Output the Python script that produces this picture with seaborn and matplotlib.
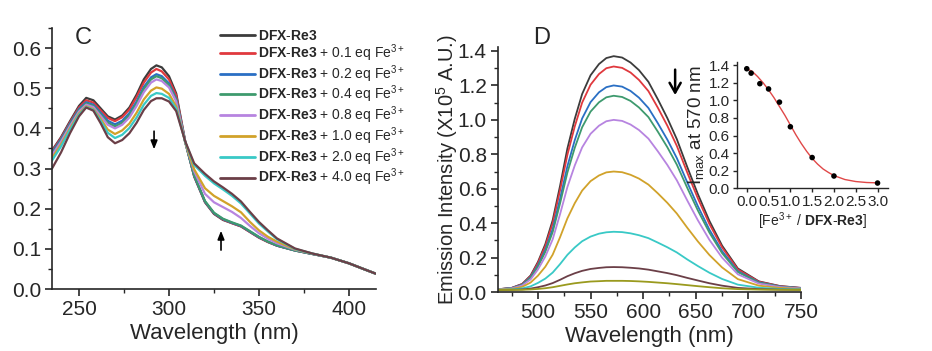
import numpy as np
import pandas as pd
import seaborn as sns
import matplotlib.pyplot as plt
from matplotlib.lines import Line2D
from matplotlib.ticker import MultipleLocator, FormatStrFormatter

# ---- panel C: absorption spectra ----
WL_C = [235, 240, 245, 250, 254, 258, 262, 266, 270, 274, 278, 282, 286, 290, 293, 296,
        300, 304, 309, 314, 320, 325, 330, 335, 340, 345, 350, 355, 360, 370, 380, 390,
        400, 408, 415]
abs_0 = [.345, .378, .418, .456, .476, .470, .450, .430, .422, .432, .452, .484, .522, .548, .557, .552,
         .530, .487, .368, .280, .216, .187, .172, .164, .156, .142, .128, .117, .108, .096, .087, .078,
         .064, .050, .038]
abs_01 = [.343, .376, .415, .452, .470, .464, .445, .426, .418, .428, .447, .478, .514, .539, .548, .542,
          .522, .482, .367, .281, .217, .188, .173, .164, .156, .142, .128, .117, .108, .096, .087, .078,
          .064, .050, .038]
abs_02 = [.340, .373, .412, .448, .465, .459, .439, .419, .410, .419, .438, .467, .503, .527, .535, .530,
          .512, .474, .366, .282, .218, .189, .174, .165, .157, .143, .129, .118, .108, .096, .087, .078,
          .064, .050, .038]
abs_04 = [.336, .370, .409, .445, .462, .456, .435, .414, .405, .414, .433, .462, .498, .522, .530, .525,
          .508, .471, .366, .283, .219, .190, .175, .166, .158, .144, .130, .118, .109, .096, .087, .078,
          .064, .050, .038]
abs_08 = [.333, .367, .406, .442, .459, .453, .431, .409, .400, .409, .427, .456, .490, .514, .522, .518,
          .502, .467, .366, .293, .237, .216, .204, .192, .177, .157, .139, .125, .114, .098, .088, .078,
          .064, .050, .038]
abs_10 = [.326, .360, .400, .437, .455, .448, .424, .397, .386, .395, .412, .439, .472, .494, .502, .499,
          .486, .455, .366, .298, .251, .232, .219, .206, .191, .167, .146, .130, .118, .099, .088, .078,
          .064, .050, .038]
abs_20 = [.320, .355, .396, .434, .453, .446, .419, .389, .376, .384, .401, .427, .459, .481, .488, .486,
          .476, .449, .367, .309, .282, .263, .248, .232, .213, .188, .163, .143, .124, .100, .088, .078,
          .064, .050, .038]
abs_40 = [.300, .340, .388, .430, .452, .444, .413, .378, .363, .371, .388, .414, .446, .468, .475, .475,
          .467, .443, .368, .313, .287, .268, .253, .237, .218, .192, .167, .146, .126, .101, .088, .078,
          .064, .050, .038]

EQ_LABELS = ["0", "0.1", "0.2", "0.4", "0.8", "1.0", "2.0", "4.0"]
COLORS_C = ["#3c3c3c", "#e0393e", "#2a6fc4", "#3e9a6e", "#b784e0", "#d1a22a", "#39c9c6", "#6b3f47"]

# ---- panel D: emission spectra ----
WL_D = [462, 475, 485, 493, 500, 507, 514, 521, 528, 535, 542, 550, 558, 565, 572, 580, 588,
        596, 605, 614, 623, 632, 642, 652, 663, 675, 690, 710, 730, 750]
em_0 = [.016, .024, .047, .096, .175, .278, .417, .616, .834, 1.006, 1.150, 1.259, 1.324, 1.359, 1.370,
        1.362, 1.333, 1.289, 1.221, 1.119, 1.010, .888, .725, .569, .413, .270, .137, .062, .035, .024]
em_1 = [.016, .024, .046, .092, .168, .266, .399, .590, .797, .962, 1.100, 1.204, 1.266, 1.300, 1.310,
        1.302, 1.275, 1.232, 1.167, 1.070, .966, .849, .693, .544, .395, .259, .131, .060, .034, .024]
em_2 = [.016, .023, .043, .086, .155, .245, .366, .541, .731, .882, 1.008, 1.103, 1.160, 1.190, 1.200,
        1.193, 1.168, 1.129, 1.069, .980, .885, .778, .636, .499, .362, .238, .121, .056, .032, .023]
em_3 = [.015, .022, .041, .082, .147, .233, .348, .514, .694, .838, .957, 1.048, 1.102, 1.131, 1.140,
        1.133, 1.110, 1.072, 1.016, .931, .841, .740, .604, .474, .345, .226, .116, .054, .031, .022]
em_4 = [.015, .021, .038, .073, .131, .206, .306, .452, .610, .735, .840, .919, .966, .992, 1.000,
        .994, .973, .941, .891, .817, .738, .649, .531, .417, .303, .200, .103, .049, .029, .021]
em_5 = [.014, .018, .030, .055, .095, .147, .217, .318, .428, .516, .589, .644, .677, .695, .700,
        .696, .681, .659, .624, .573, .518, .456, .373, .294, .215, .143, .075, .037, .024, .018]
em_6 = [.013, .015, .021, .033, .053, .078, .113, .162, .216, .259, .295, .322, .339, .347, .350,
        .348, .341, .330, .313, .287, .260, .230, .189, .151, .112, .076, .043, .025, .018, .015]
em_7 = [.012, .013, .015, .020, .028, .038, .052, .071, .092, .109, .123, .134, .140, .144, .145,
        .144, .141, .137, .130, .120, .110, .098, .082, .067, .051, .037, .024, .017, .014, .013]
em_8 = [.012, .012, .013, .015, .018, .022, .028, .036, .044, .051, .056, .061, .063, .065, .065,
        .065, .064, .062, .059, .055, .051, .046, .040, .034, .028, .022, .017, .014, .013, .012]
COLORS_D = COLORS_C + ["#9a9a1e"]

# ---- inset: I_max at 570 nm ----
ratio = [0.0, 0.1, 0.3, 0.5, 0.75, 1.0, 1.5, 2.0, 3.0]
imax = [1.36, 1.31, 1.19, 1.13, 0.98, 0.70, 0.35, 0.14, 0.06]
fit_x = [0, .125, .25, .375, .5, .625, .75, .875, 1.0, 1.125, 1.25, 1.375, 1.5, 1.625,
         1.75, 1.875, 2.0, 2.25, 2.5, 2.75, 3.0]
fit_y = [1.36, 1.33, 1.27, 1.20, 1.12, 1.03, .93, .83, .72, .61, .51, .42, .34, .275,
         .22, .18, .145, .10, .077, .066, .062]

sns.set_style("ticks")
plt.rcParams["font.family"] = ["Liberation Sans", "DejaVu Sans"]
plt.rcParams["mathtext.fontset"] = "custom"
plt.rcParams["mathtext.rm"] = "Liberation Sans"
plt.rcParams["mathtext.bf"] = "Liberation Sans:bold"
plt.rcParams["mathtext.it"] = "Liberation Sans:italic"
plt.rcParams["axes.linewidth"] = 1.2

series_c = [abs_0, abs_01, abs_02, abs_04, abs_08, abs_10, abs_20, abs_40]
df_c = pd.DataFrame({
    "wl": np.tile(WL_C, len(series_c)),
    "absorbance": np.concatenate(series_c),
    "eq": np.repeat(EQ_LABELS, len(WL_C)),
})
series_d = [em_0, em_1, em_2, em_3, em_4, em_5, em_6, em_7, em_8]
names_d = [f"s{i}" for i in range(len(series_d))]
df_d = pd.DataFrame({
    "wl": np.tile(WL_D, len(series_d)),
    "intensity": np.concatenate(series_d),
    "s": np.repeat(names_d, len(WL_D)),
})

fig = plt.figure(figsize=(9.32, 3.51), dpi=100)
axC = fig.add_axes([0.0558, 0.1766, 0.3476, 0.7436])
axD = fig.add_axes([0.5343, 0.168, 0.3251, 0.698])
axI = fig.add_axes([0.7905, 0.4635, 0.1623, 0.3607])

# panel C
sns.lineplot(data=df_c, x="wl", y="absorbance", hue="eq", hue_order=EQ_LABELS,
             palette=COLORS_C, estimator=None, sort=False, lw=1.6, legend=False, ax=axC)
axC.set_xlim(235, 415)
axC.set_ylim(0, 0.65)
axC.xaxis.set_major_locator(MultipleLocator(50))
axC.xaxis.set_minor_locator(MultipleLocator(25))
axC.yaxis.set_major_locator(MultipleLocator(0.1))
axC.yaxis.set_minor_locator(MultipleLocator(0.05))
axC.yaxis.set_major_formatter(FormatStrFormatter("%.1f"))
axC.set_xlabel("Wavelength (nm)", fontsize=16, labelpad=3)
axC.set_ylabel("")
fig.text(83 / 932, 1 - 38 / 351, "C", fontsize=17, ha="center", va="center")
axC.annotate("", xy=(291.7, 0.341), xytext=(291.7, 0.40),
             arrowprops=dict(arrowstyle="-|>,head_length=0.5,head_width=0.2", lw=1.2, color="black"))
axC.annotate("", xy=(328.9, 0.152), xytext=(328.9, 0.09),
             arrowprops=dict(arrowstyle="-|>,head_length=0.5,head_width=0.2", lw=1.2, color="black"))

handles = [Line2D([], [], color=c, lw=2) for c in COLORS_C]
labels = [r"$\mathbf{DFX}$-$\mathbf{Re3}$"] + \
         [r"$\mathbf{DFX}$-$\mathbf{Re3}$ + " + e + r" eq Fe$^{3+}$" for e in EQ_LABELS[1:]]
axC.legend(handles, labels, loc="upper left", bbox_to_anchor=(220 / 932, 1 - 29 / 351),
           bbox_transform=fig.transFigure, frameon=False, fontsize=10, handlelength=2.5,
           handletextpad=0.25, labelspacing=-0.06, borderpad=0, borderaxespad=0)

# panel D
sns.lineplot(data=df_d, x="wl", y="intensity", hue="s", hue_order=names_d,
             palette=COLORS_D, estimator=None, sort=False, lw=1.3, legend=False, ax=axD)
axD.set_xlim(462, 750)
axD.set_ylim(0, 1.423)
axD.xaxis.set_major_locator(MultipleLocator(50))
axD.xaxis.set_minor_locator(MultipleLocator(25))
axD.yaxis.set_major_locator(MultipleLocator(0.2))
axD.yaxis.set_minor_locator(MultipleLocator(0.1))
axD.yaxis.set_major_formatter(FormatStrFormatter("%.1f"))
axD.set_xlabel("Wavelength (nm)", fontsize=16, labelpad=3)
axD.set_ylabel(r"Emission Intensity (X10$^{5}$ A.U.)", fontsize=14.5)
axD.yaxis.set_label_coords(-0.125, 0.5)
fig.text(542 / 932, 1 - 38 / 351, "D", fontsize=17, ha="center", va="center")
axD.annotate("", xy=(630.4, 1.128), xytext=(630.4, 1.308),
             arrowprops=dict(arrowstyle="->,head_length=0.7,head_width=0.4", lw=1.8, color="black"))

for ax in (axC, axD):
    sns.despine(ax=ax)
    ax.tick_params(which="major", direction="out", length=5, width=1.2, labelsize=15, pad=3)
    ax.tick_params(which="minor", direction="out", length=3, width=1.0)

# inset
sns.lineplot(x=fit_x, y=fit_y, color="#e04848", lw=1.0, ax=axI)
sns.scatterplot(x=ratio, y=imax, color="black", s=16, edgecolor="none", zorder=3, ax=axI)
axI.set_xlim(-0.23, 3.24)
axI.set_ylim(0, 1.44)
axI.xaxis.set_major_locator(MultipleLocator(0.5))
axI.yaxis.set_major_locator(MultipleLocator(0.2))
axI.xaxis.set_major_formatter(FormatStrFormatter("%.1f"))
axI.yaxis.set_major_formatter(FormatStrFormatter("%.1f"))
axI.tick_params(which="major", direction="out", length=3, width=1.0, labelsize=11, pad=2)
axI.set_xlabel(r"[Fe$^{3+}$ / $\mathbf{DFX}$-$\mathbf{Re3}$]", fontsize=10, labelpad=1)
axI.set_ylabel(r"$\mathrm{I_{max}}$ at 570 nm", fontsize=13.5, labelpad=2)
for sp in ("top", "right"):
    axI.spines[sp].set_visible(False)
for sp in ("left", "bottom"):
    axI.spines[sp].set_linewidth(1.0)

fig.savefig("out.png", dpi=100)
plt.close(fig)
